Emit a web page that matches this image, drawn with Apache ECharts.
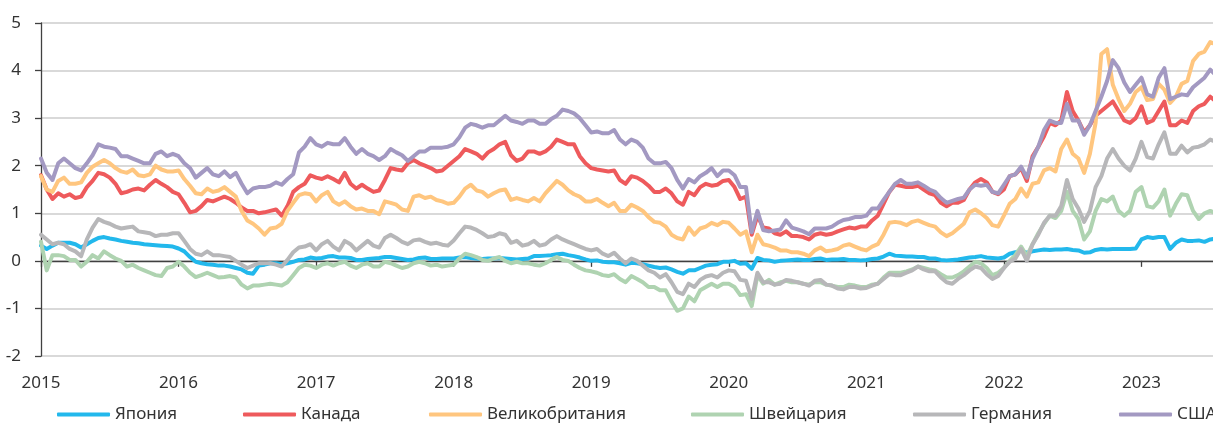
<!DOCTYPE html>
<html>
<head>
<meta charset="utf-8">
<script src="https://cdn.jsdelivr.net/npm/echarts@6/dist/echarts.min.js"></script>
<style>
html,body{margin:0;padding:0;overflow:hidden;background:#ffffff;width:1213px;height:427px}
#c{width:1250px;height:427px}
</style>
</head>
<body>
<div id="c"></div>
<script>
// ---- tick labels / names ----
const years = ['2015','2016','2017','2018','2019','2020','2021','2022','2023'];
const names = ['Япония','Канада','Великобритания','Швейцария','Германия','США'];

// ---- series values: semi-monthly readings (1st and mid-month), Jan 2015 .. Jul 2023 ----
const japan = [
 0.32,0.25,0.32,0.38,0.38,0.38,0.35,0.28,0.35,0.42,0.48,0.50,0.47,0.45,0.42,0.40,0.38,0.37,0.35,0.34,0.33,0.32,0.31,0.30,
 0.26,0.20,0.08,-0.02,-0.05,-0.07,-0.08,-0.10,-0.10,-0.12,-0.15,-0.18,-0.25,-0.27,-0.10,-0.08,-0.05,-0.05,-0.07,-0.05,-0.02,0.02,0.03,0.07,
 0.05,0.06,0.09,0.10,0.07,0.07,0.06,0.02,0.02,0.04,0.05,0.06,0.08,0.08,0.06,0.04,0.02,0.03,0.06,0.07,0.04,0.04,0.05,0.05,
 0.05,0.07,0.08,0.06,0.05,0.04,0.05,0.05,0.06,0.05,0.04,0.03,0.04,0.05,0.10,0.10,0.11,0.12,0.14,0.15,0.12,0.10,0.07,0.03,
 0.00,0.01,-0.02,-0.03,-0.03,-0.05,-0.08,-0.04,-0.05,-0.07,-0.10,-0.13,-0.15,-0.14,-0.18,-0.23,-0.27,-0.20,-0.20,-0.15,-0.10,-0.08,-0.07,-0.02,
 -0.02,0.00,-0.06,-0.05,-0.17,0.06,0.02,0.01,-0.02,0.00,0.01,0.02,0.03,0.02,0.02,0.04,0.05,0.02,0.03,0.03,0.04,0.02,0.02,0.01,
 0.02,0.04,0.05,0.09,0.15,0.11,0.10,0.09,0.09,0.08,0.08,0.05,0.05,0.02,0.01,0.02,0.03,0.05,0.07,0.08,0.10,0.07,0.06,0.05,
 0.07,0.15,0.18,0.22,0.17,0.20,0.22,0.24,0.23,0.24,0.24,0.25,0.23,0.22,0.17,0.18,0.23,0.25,0.24,0.25,0.25,0.25,0.25,0.26,
 0.45,0.50,0.48,0.50,0.50,0.25,0.38,0.45,0.42,0.42,0.43,0.40,0.45,0.47,0.48
];
const canada = [
 1.80,1.50,1.30,1.42,1.35,1.40,1.32,1.35,1.55,1.68,1.85,1.82,1.75,1.62,1.42,1.45,1.50,1.52,1.48,1.60,1.70,1.62,1.55,1.45,
 1.40,1.22,1.02,1.05,1.15,1.28,1.25,1.30,1.35,1.30,1.22,1.12,1.05,1.05,1.00,1.02,1.05,1.08,0.95,1.15,1.45,1.55,1.62,1.80,
 1.75,1.72,1.78,1.72,1.65,1.85,1.62,1.52,1.60,1.52,1.45,1.48,1.70,1.95,1.92,1.90,2.05,2.12,2.05,2.00,1.95,1.88,1.90,2.00,
 2.10,2.20,2.35,2.30,2.25,2.15,2.28,2.35,2.45,2.50,2.22,2.10,2.15,2.30,2.30,2.25,2.30,2.40,2.55,2.50,2.45,2.45,2.20,2.05,
 1.95,1.92,1.90,1.88,1.90,1.70,1.62,1.78,1.75,1.68,1.58,1.45,1.45,1.52,1.42,1.25,1.18,1.45,1.38,1.55,1.62,1.58,1.60,1.68,
 1.70,1.55,1.30,1.35,0.55,0.95,0.70,0.68,0.58,0.55,0.62,0.52,0.52,0.50,0.45,0.55,0.58,0.55,0.57,0.62,0.66,0.70,0.68,0.72,
 0.72,0.85,0.95,1.20,1.45,1.60,1.58,1.55,1.55,1.58,1.50,1.42,1.38,1.22,1.15,1.22,1.22,1.28,1.50,1.65,1.72,1.65,1.45,1.40,
 1.50,1.78,1.82,1.95,1.68,2.20,2.40,2.62,2.90,2.85,2.95,3.55,3.15,2.95,2.70,2.85,3.05,3.15,3.25,3.35,3.15,2.95,2.90,3.00,
 3.25,2.90,2.95,3.15,3.35,2.85,2.85,2.95,2.90,3.15,3.25,3.30,3.45,3.35,3.40
];
const uk = [
 1.78,1.50,1.45,1.68,1.75,1.62,1.62,1.65,1.85,1.98,2.05,2.12,2.05,1.95,1.88,1.85,1.92,1.80,1.78,1.82,2.00,1.92,1.88,1.88,
 1.90,1.72,1.58,1.42,1.40,1.52,1.45,1.48,1.55,1.45,1.35,1.05,0.85,0.78,0.68,0.55,0.68,0.70,0.78,1.05,1.22,1.38,1.42,1.40,
 1.25,1.38,1.45,1.25,1.18,1.25,1.15,1.08,1.10,1.05,1.05,0.98,1.25,1.22,1.18,1.08,1.05,1.35,1.38,1.32,1.35,1.28,1.25,1.20,
 1.22,1.35,1.52,1.60,1.48,1.45,1.35,1.42,1.48,1.50,1.28,1.32,1.28,1.25,1.32,1.25,1.42,1.55,1.68,1.60,1.48,1.40,1.35,1.25,
 1.25,1.30,1.22,1.15,1.22,1.05,1.05,1.18,1.12,1.05,0.92,0.82,0.80,0.72,0.55,0.48,0.45,0.70,0.55,0.68,0.72,0.80,0.75,0.82,
 0.80,0.68,0.55,0.62,0.18,0.55,0.35,0.32,0.28,0.22,0.22,0.18,0.18,0.15,0.10,0.22,0.28,0.20,0.22,0.25,0.32,0.35,0.30,0.25,
 0.22,0.30,0.35,0.55,0.80,0.82,0.80,0.75,0.82,0.85,0.80,0.75,0.72,0.60,0.52,0.58,0.68,0.78,1.02,1.08,1.00,0.90,0.75,0.72,
 0.95,1.20,1.30,1.52,1.35,1.62,1.65,1.90,1.95,1.88,2.35,2.55,2.25,2.15,1.85,2.25,2.90,4.35,4.45,3.70,3.40,3.15,3.30,3.55,
 3.65,3.38,3.40,3.72,3.60,3.32,3.45,3.72,3.78,4.20,4.35,4.40,4.60,4.55,4.62
];
const swiss = [
 0.40,-0.20,0.12,0.12,0.10,0.02,0.02,-0.12,-0.02,0.12,0.05,0.20,0.12,0.05,0.00,-0.12,-0.08,-0.15,-0.20,-0.25,-0.30,-0.32,-0.15,-0.12,
 -0.02,-0.12,-0.25,-0.34,-0.30,-0.25,-0.30,-0.35,-0.34,-0.32,-0.35,-0.50,-0.58,-0.52,-0.52,-0.50,-0.48,-0.50,-0.52,-0.45,-0.30,-0.15,-0.08,-0.10,
 -0.15,-0.08,-0.05,-0.10,-0.05,-0.02,-0.10,-0.15,-0.08,-0.05,-0.12,-0.12,-0.02,-0.05,-0.10,-0.15,-0.12,-0.05,-0.02,-0.05,-0.10,-0.08,-0.12,-0.10,
 -0.08,0.05,0.15,0.12,0.08,0.02,0.00,0.05,0.08,0.00,-0.05,-0.02,-0.05,-0.05,-0.08,-0.10,-0.05,0.02,0.08,0.02,0.00,-0.08,-0.15,-0.20,
 -0.22,-0.25,-0.30,-0.32,-0.28,-0.38,-0.45,-0.32,-0.38,-0.45,-0.55,-0.55,-0.62,-0.62,-0.85,-1.05,-1.00,-0.75,-0.85,-0.62,-0.55,-0.48,-0.55,-0.48,
 -0.48,-0.55,-0.72,-0.70,-0.95,-0.30,-0.48,-0.40,-0.50,-0.45,-0.42,-0.45,-0.45,-0.48,-0.50,-0.45,-0.45,-0.50,-0.52,-0.55,-0.55,-0.50,-0.52,-0.55,
 -0.55,-0.50,-0.48,-0.35,-0.25,-0.25,-0.25,-0.22,-0.18,-0.12,-0.15,-0.18,-0.20,-0.28,-0.35,-0.35,-0.30,-0.22,-0.12,-0.02,-0.05,-0.15,-0.30,-0.25,
 -0.15,0.00,0.12,0.30,0.10,0.35,0.58,0.78,0.95,0.90,1.05,1.45,1.05,0.88,0.45,0.62,1.05,1.30,1.25,1.35,1.05,0.95,1.05,1.45,
 1.55,1.15,1.12,1.25,1.50,0.95,1.20,1.40,1.38,1.05,0.88,1.00,1.05,1.00,1.02
];
const germany = [
 0.55,0.45,0.35,0.38,0.35,0.25,0.20,0.10,0.45,0.70,0.88,0.82,0.78,0.72,0.68,0.70,0.72,0.62,0.60,0.58,0.52,0.55,0.55,0.58,
 0.58,0.42,0.25,0.15,0.12,0.20,0.12,0.12,0.10,0.08,0.00,-0.08,-0.15,-0.10,-0.05,-0.05,-0.05,-0.08,-0.12,0.02,0.18,0.28,0.30,0.35,
 0.22,0.35,0.42,0.30,0.22,0.42,0.35,0.22,0.32,0.42,0.32,0.28,0.48,0.55,0.48,0.40,0.35,0.43,0.45,0.40,0.36,0.38,0.34,0.32,
 0.43,0.58,0.72,0.70,0.65,0.58,0.50,0.52,0.58,0.55,0.38,0.42,0.32,0.35,0.42,0.32,0.35,0.45,0.52,0.45,0.40,0.35,0.30,0.25,
 0.22,0.25,0.15,0.10,0.17,0.05,-0.05,0.05,0.00,-0.10,-0.20,-0.25,-0.35,-0.28,-0.45,-0.65,-0.70,-0.48,-0.55,-0.40,-0.33,-0.30,-0.35,-0.25,
 -0.20,-0.22,-0.40,-0.42,-0.80,-0.25,-0.45,-0.45,-0.50,-0.48,-0.40,-0.42,-0.45,-0.48,-0.52,-0.42,-0.40,-0.50,-0.52,-0.58,-0.60,-0.55,-0.55,-0.58,
 -0.57,-0.52,-0.48,-0.38,-0.28,-0.30,-0.30,-0.25,-0.20,-0.12,-0.18,-0.22,-0.22,-0.35,-0.45,-0.48,-0.38,-0.30,-0.20,-0.12,-0.15,-0.28,-0.38,-0.32,
 -0.15,-0.02,0.05,0.25,0.00,0.35,0.55,0.80,0.95,0.95,1.15,1.70,1.30,1.10,0.82,1.05,1.55,1.78,2.15,2.35,2.15,2.00,1.90,2.15,
 2.50,2.18,2.15,2.45,2.70,2.25,2.25,2.42,2.28,2.38,2.40,2.45,2.55,2.50,2.55
];
const usa = [
 2.15,1.85,1.70,2.05,2.15,2.05,1.95,1.90,2.05,2.22,2.45,2.40,2.38,2.35,2.20,2.20,2.15,2.10,2.05,2.05,2.25,2.30,2.20,2.25,
 2.20,2.05,1.95,1.75,1.85,1.95,1.82,1.78,1.88,1.76,1.85,1.62,1.42,1.52,1.55,1.55,1.58,1.65,1.60,1.72,1.82,2.28,2.40,2.58,
 2.45,2.40,2.48,2.45,2.45,2.58,2.40,2.25,2.35,2.25,2.20,2.12,2.20,2.35,2.28,2.22,2.10,2.20,2.30,2.30,2.38,2.38,2.38,2.40,
 2.45,2.60,2.80,2.88,2.85,2.80,2.85,2.85,2.95,3.05,2.95,2.92,2.88,2.95,2.95,2.88,2.88,2.98,3.05,3.18,3.15,3.10,3.00,2.85,
 2.70,2.72,2.68,2.68,2.75,2.55,2.45,2.55,2.50,2.38,2.15,2.05,2.05,2.08,1.95,1.70,1.52,1.72,1.65,1.78,1.85,1.95,1.78,1.90,
 1.90,1.80,1.55,1.55,0.60,1.05,0.65,0.62,0.64,0.66,0.85,0.70,0.66,0.62,0.56,0.68,0.68,0.68,0.72,0.80,0.86,0.88,0.92,0.92,
 0.95,1.10,1.10,1.28,1.45,1.62,1.70,1.62,1.62,1.65,1.58,1.50,1.45,1.32,1.22,1.26,1.30,1.33,1.50,1.60,1.58,1.60,1.45,1.42,
 1.60,1.78,1.82,1.98,1.75,2.15,2.40,2.75,2.95,2.90,2.90,3.30,2.95,2.95,2.65,2.85,3.15,3.45,3.78,4.22,4.05,3.75,3.55,3.70,
 3.85,3.50,3.45,3.85,4.05,3.40,3.45,3.50,3.48,3.65,3.75,3.85,4.02,3.90,3.95
];

// time of each reading, in years (two readings per month)
const times = japan.map((_, i) => 2015 + i / 24);

const seriesValues = [japan, canada, uk, swiss, germany, usa];
const colors = ['#22B8EC', '#EE5A5C', '#FFC67F', '#AFD3B1', '#B7B7B9', '#A399C2'];
const legendLeft = [57, 243, 429, 691, 913, 1119];

const FONT = '"Noto Sans", "DejaVu Sans", sans-serif';
const TXT = '#333333';
const AX = '#404040';

const chart = echarts.init(document.getElementById('c'), null, {renderer: 'canvas'});
chart.setOption({
  animation: false,
  backgroundColor: '#ffffff',
  grid: {left: 41, right: 26, top: 23, bottom: 71, containLabel: false},
  xAxis: [
    {
      type: 'value', min: 2015, max: 2023.6, interval: 1, position: 'bottom',
      axisLine: {show: false, onZero: false},
      axisTick: {show: false},
      splitLine: {show: false},
      axisLabel: {
        margin: 19, fontSize: 17, color: TXT, fontFamily: FONT,
        showMaxLabel: false,
        formatter: v => { const k = Math.round(v) - 2015; return (Math.abs(v - Math.round(v)) < 1e-6 && years[k]) ? years[k] : ''; }
      }
    },
    {
      type: 'value', min: 2015, max: 2023.6, interval: 1, position: 'bottom',
      axisLine: {show: true, onZero: true, lineStyle: {color: AX, width: 1.3}},
      axisTick: {show: true, length: 6, lineStyle: {color: AX, width: 1.3}},
      axisLabel: {show: false},
      splitLine: {show: false}
    }
  ],
  yAxis: {
    type: 'value', min: -2, max: 5, interval: 1,
    axisLine: {show: true, lineStyle: {color: AX, width: 1.3}},
    axisTick: {show: true, length: 6, lineStyle: {color: AX, width: 1.3}},
    axisLabel: {margin: 20, fontSize: 17, color: TXT, fontFamily: FONT},
    splitLine: {show: true, lineStyle: {color: '#cccccc', width: 1.5}}
  },
  legend: names.map((n, i) => ({
    data: [n], left: legendLeft[i], top: 406, padding: 0,
    icon: 'roundRect', itemWidth: 53, itemHeight: 4, selectedMode: false,
    textStyle: {fontSize: 17, color: TXT, fontFamily: FONT}
  })),
  series: names.map((n, i) => ({
    name: n, type: 'line', xAxisIndex: 0, yAxisIndex: 0,
    data: seriesValues[i].map((v, j) => [times[j], v]),
    symbol: 'none', showSymbol: false,
    lineStyle: {width: 4, color: colors[i], cap: 'round', join: 'round'},
    itemStyle: {color: colors[i]},
    emphasis: {disabled: true}
  }))
});
</script>
</body>
</html>
